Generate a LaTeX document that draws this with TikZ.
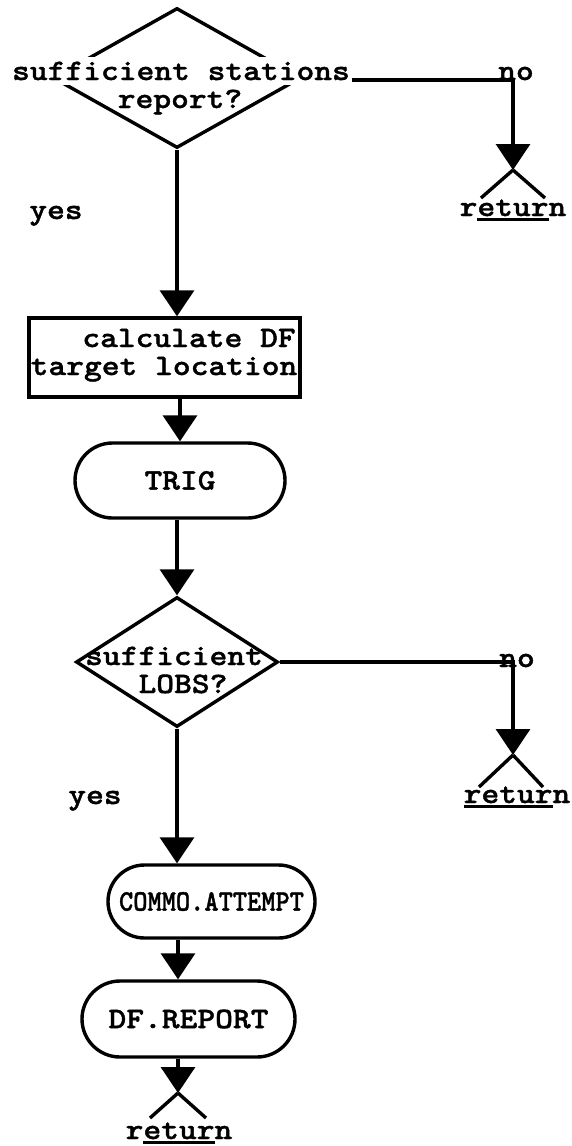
\documentclass[tikz,border=0pt]{standalone}
\usepackage{fontspec}
\newfontfamily\tw{lmmonolt10-bold.otf}[FakeStretch=1.14,FakeBold=1.3]
\usetikzlibrary{arrows.meta,shapes.geometric,shapes.misc}
\newcommand\myul[1]{\setbox0\hbox{#1}\rlap{\rule[-5pt]{\wd0}{2.8pt}}\box0}
\begin{document}
\begin{tikzpicture}[x=1pt,y=1pt,line width=3.4pt,
  every node/.style={font=\tw\fontsize{29.7}{23.5}\selectfont},
  dia/.style={diamond, draw, inner sep=0pt},
  lbl/.style={anchor=base, inner sep=0pt},
  cut/.style={anchor=base, fill=white, inner xsep=2pt, inner ysep=5pt},
  proc/.style={draw, rectangle, inner sep=0pt},
  sub/.style={draw, rounded rectangle, inner sep=0pt},
  arr/.style={-{Triangle[width=34pt,length=26pt]}},
  fork/.style={line width=3.4pt}]
\useasboundingbox (0,0) rectangle (571,-1146);

% shapes
\node[dia, minimum width=248pt, minimum height=140pt] (d1) at (177,-78) {};
\coordinate (r1) at (513,-170);
\node[proc, minimum width=271pt, minimum height=79pt] (calc) at (164.5,-357.5) {};
\node[sub, minimum width=210pt, minimum height=75pt] (trig) at (180,-480.5) {TRIG};
\node[dia, minimum width=202pt, minimum height=130pt] (d2) at (177,-662) {};
\coordinate (r2) at (513,-755);
\node[sub, minimum width=207pt, minimum height=73pt] (commo) at (211.5,-901.5)
  {\scalebox{0.8}[1]{COMMO.ATTEMPT}};
\node[sub, minimum width=213pt, minimum height=76pt] (df) at (188.5,-1019) {DF.REPORT};
\coordinate (r3) at (178,-1093);

% connectors
\draw[arr] ([yshift=-2pt]d1.east) -| (r1);
\draw[arr] (d1.south) -- (d1.south |- calc.north);
\draw[arr] (trig.north |- calc.south) -- (trig.north);
\draw[arr] (trig.south -| d2.north) -- (d2.north);
\draw[arr] (d2.east) -| (r2);
\draw[arr] (d2.south) -- (d2.south |- commo.north);
\draw[arr] (commo.south -| r3) -- (df.north -| r3);
\draw[arr] (df.south -| r3) -- (r3);

% return forks
\draw[fork] (r1) -- ++(-32,-28) (r1) -- ++(32,-28);
\draw[fork] (r2) -- ++(-34,-32) (r2) -- ++(30,-32);
\draw[fork] (r3) -- ++(-28,-25) (r3) -- ++(28,-25);

% texts
\node[cut] (t1a) at (181,-80) {sufficient stations};
\node[lbl] (t1b) at (180,-108) {report?};
\node[lbl] (no1) at (516,-80) {no};
\node[lbl] (yes1) at (56,-219) {yes};
\node[lbl] (ret1) at (513,-216) {r\myul{etur}n};
\node[lbl] (c1) at (189,-347) {calculate DF};
\node[lbl] (c2) at (164,-375) {target location};
\node[lbl] (t2a) at (174,-665) {sufficient};
\node[lbl] (t2b) at (183,-693) {LOBS?};
\node[lbl] (no2) at (517,-667) {no};
\node[lbl] (yes2) at (95,-804) {yes};
\node[lbl] (ret2) at (517,-803) {\myul{retur}n};
\node[lbl] (ret3) at (179,-1139) {r\myul{etur}n};
\end{tikzpicture}
\end{document}
